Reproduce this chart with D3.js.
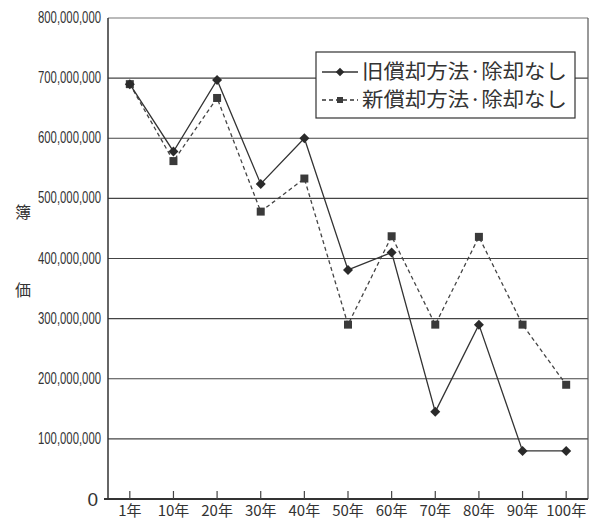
<!DOCTYPE html>
<html><head><meta charset="utf-8">
<script src="https://cdn.jsdelivr.net/npm/d3@7"></script>
<style>
body{margin:0;background:#fff;}
svg{display:block;}
text{font-family:"Liberation Sans","DejaVu Sans",sans-serif;fill:#333;}
.jp{font-family:"Noto Sans CJK JP","Noto Sans",sans-serif;}
</style></head>
<body>
<svg id="c" width="592" height="523"></svg>
<script>
const categories = ["1年","10年","20年","30年","40年","50年","60年","70年","80年","90年","100年"];
const oldValues = [690e6, 578e6, 697e6, 524e6, 600e6, 381e6, 410e6, 145e6, 290e6, 80e6, 80e6];
const newValues = [690e6, 562e6, 667e6, 478e6, 533e6, 290e6, 437e6, 290e6, 436e6, 290e6, 190e6];
const yTicks = [0,100e6,200e6,300e6,400e6,500e6,600e6,700e6,800e6];
const seriesNames = ["旧償却方法·除却なし","新償却方法·除却なし"];
const yTitle = ["簿","価"];

const svg = d3.select("#c");
const L=108, R=588, T=18, B=499;
const x = d3.scalePoint().domain(categories).range([L,R]).padding(0.5);
const y = d3.scaleLinear().domain([0,800e6]).range([B,T]);

// gridlines
svg.append("g").selectAll("line").data(yTicks.filter(d=>d>0)).join("line")
  .attr("x1",L).attr("x2",R).attr("y1",d=>y(d)).attr("y2",d=>y(d))
  .attr("stroke",d=>d===800e6?"#777":"#444").attr("stroke-width",1.2);

// frame
svg.append("line").attr("x1",L).attr("x2",L).attr("y1",T).attr("y2",B).attr("stroke","#333").attr("stroke-width",1.5);
svg.append("line").attr("x1",R).attr("x2",R).attr("y1",T).attr("y2",B).attr("stroke","#555").attr("stroke-width",1.2);
svg.append("line").attr("x1",L-4).attr("x2",R).attr("y1",B).attr("y2",B).attr("stroke","#333").attr("stroke-width",1.8);

// x ticks
svg.append("g").selectAll("line").data(categories).join("line")
  .attr("x1",d=>x(d)).attr("x2",d=>x(d)).attr("y1",B).attr("y2",B-8)
  .attr("stroke","#444").attr("stroke-width",1.2);

// x labels
svg.append("g").selectAll("text").data(categories).join("text")
  .attr("class","jp")
  .attr("x",d=>x(d)).attr("y",B+17).attr("text-anchor","middle")
  .attr("font-size",15).text(d=>d);

// y labels
const fmt = d3.format(",");
svg.append("g").selectAll("text").data(yTicks).join("text")
  .attr("x",d=>d===0?98:101).attr("y",d=>y(d)+(d===0?7:5))
  .attr("text-anchor","end")
  .attr("font-size",d=>d===0?19:16)
  .each(function(d){
    const t=d3.select(this);
    t.text(fmt(d));
    if(d!==0){ t.attr("textLength",63).attr("lengthAdjust","spacingAndGlyphs"); }
  });

// y title
svg.append("g").selectAll("text").data(yTitle).join("text")
  .attr("class","jp").attr("x",23).attr("y",(d,i)=>i===0?218:296)
  .attr("text-anchor","middle").attr("font-size",16).text(d=>d);

const line = d3.line().x((d,i)=>x(categories[i])).y(d=>y(d));

// new series (dashed, squares)
svg.append("path").datum(newValues).attr("d",line).attr("fill","none")
  .attr("stroke","#444").attr("stroke-width",1.3).attr("stroke-dasharray","4,3");
// old series (solid, diamonds)
svg.append("path").datum(oldValues).attr("d",line).attr("fill","none")
  .attr("stroke","#333").attr("stroke-width",1.3);

const sq = d3.symbol().type(d3.symbolSquare).size(64);
const dm = d3.symbol().type(d3.symbolSquare).size(50);
svg.append("g").selectAll("path").data(newValues).join("path")
  .attr("d",sq).attr("transform",(d,i)=>`translate(${x(categories[i])},${y(d)})`).attr("fill","#3a3a3a");
svg.append("g").selectAll("path").data(oldValues).join("path")
  .attr("d",dm).attr("transform",(d,i)=>`translate(${x(categories[i])},${y(d)}) rotate(45)`).attr("fill","#2a2a2a");

// legend
const lg = svg.append("g");
lg.append("rect").attr("x",316).attr("y",52).attr("width",259).attr("height",66)
  .attr("fill","#fff").attr("stroke","#333").attr("stroke-width",1.2);
const rows=[{y:72,dash:null,sym:d3.symbol().type(d3.symbolSquare).size(36),rot:45,col:"#2a2a2a"},
            {y:100,dash:"4,3",sym:d3.symbol().type(d3.symbolSquare).size(36),rot:0,col:"#3a3a3a"}];
rows.forEach((r,i)=>{
  lg.append("line").attr("x1",322).attr("x2",358).attr("y1",r.y).attr("y2",r.y)
    .attr("stroke","#333").attr("stroke-width",1.3).attr("stroke-dasharray",r.dash);
  lg.append("path").attr("d",r.sym).attr("transform",`translate(340,${r.y}) rotate(${r.rot})`).attr("fill",r.col);
  lg.append("text").attr("class","jp").attr("x",362).attr("y",r.y+7).attr("font-size",20)
    .attr("textLength",205).attr("lengthAdjust","spacingAndGlyphs").text(seriesNames[i]);
});
</script>
</body></html>
